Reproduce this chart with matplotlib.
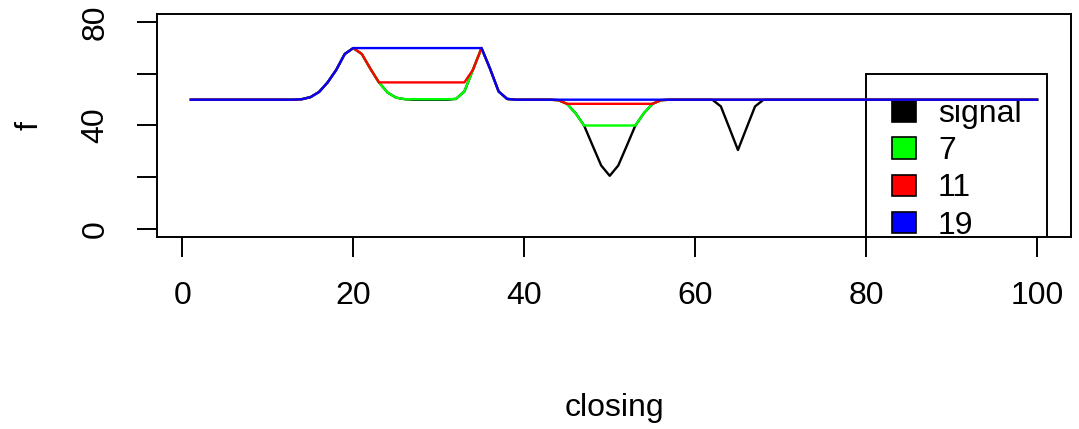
import matplotlib.pyplot as plt
from matplotlib.patches import Patch

# signal and its closings with window 7, 11, 19 (vertices)
x_signal = [1, 13, 14, 15, 16, 17, 18, 19, 20, 21, 22, 23, 24, 25, 26, 27,
            31, 32, 33, 34, 35, 36, 37, 38, 39,
            43, 44, 45, 46, 47, 48, 49, 50, 51, 52, 53, 54, 55, 56, 57,
            62, 63, 64, 65, 66, 67, 68, 100]
y_signal = [50, 50, 50.2, 51, 53, 56.7, 61.5, 67.7, 70, 67.7, 62, 56.7, 52.8, 50.8, 50.2, 50,
            50, 50.3, 53.2, 61.6, 70, 62, 53.2, 50.3, 50,
            50, 49.8, 48.4, 44.8, 40, 32.2, 24.5, 20.5, 24.5, 32.2, 40, 44.8, 48.4, 49.8, 50,
            50, 47.4, 39, 30.5, 39, 47.4, 50, 50]

x_c7 = [1, 13, 14, 15, 16, 17, 18, 19, 20, 21, 22, 23, 24, 25, 26, 27,
        31, 32, 33, 34, 35, 36, 37, 38, 39,
        43, 44, 45, 46, 47, 53, 54, 55, 56, 57, 100]
y_c7 = [50, 50, 50.2, 51, 53, 56.7, 61.5, 67.7, 70, 67.7, 62, 56.7, 52.8, 50.8, 50.2, 50.2,
        50.2, 50.3, 53.2, 61.6, 70, 62, 53.2, 50.3, 50,
        50, 49.8, 48.4, 44.8, 40, 40, 44.8, 48.4, 49.8, 50, 50]

x_c11 = [1, 13, 14, 15, 16, 17, 18, 19, 20, 21, 22, 23,
         33, 34, 35, 36, 37, 38, 39,
         43, 44, 45, 55, 56, 57, 100]
y_c11 = [50, 50, 50.2, 51, 53, 56.7, 61.5, 67.7, 70, 67.7, 62, 56.7,
         56.7, 61.6, 70, 62, 53.2, 50.3, 50,
         50, 49.8, 48.4, 48.4, 49.8, 50, 50]

x_c19 = [1, 13, 14, 15, 16, 17, 18, 19, 20, 35, 36, 37, 38, 39, 100]
y_c19 = [50, 50, 50.2, 51, 53, 56.7, 61.5, 67.7, 70, 70, 62, 53.2, 50.3, 50, 50]

labels = ['signal', '7', '11', '19']
colors = ['#000000', '#00FF00', '#FF0000', '#0000FF']

plt.rcParams['font.family'] = ['Liberation Sans', 'DejaVu Sans']
fs = 23

fig = plt.figure(figsize=(10.79, 4.29), dpi=100)
ax = fig.add_axes([157 / 1079, 1 - 237 / 429, (1071 - 157) / 1079, (237 - 14) / 429])

series = [(x_signal, y_signal), (x_c7, y_c7), (x_c11, y_c11), (x_c19, y_c19)]
for (xs, ys), c in zip(series, colors):
    ax.plot(xs, ys, color=c, lw=1.7, zorder=3)

ax.set_xlim(1 - 0.04 * 99, 100 + 0.04 * 99)
ax.set_ylim(-3.2, 83.2)
ax.set_xticks([0, 20, 40, 60, 80, 100])
ax.set_yticks([0, 20, 40, 60, 80])
ax.set_yticklabels(['0', '', '40', '', '80'], rotation=90, va='center')
ax.tick_params(axis='both', direction='out', length=14.4, width=1.4, labelsize=fs, colors='black')
ax.tick_params(axis='x', pad=17)
ax.tick_params(axis='y', pad=19)
for s in ax.spines.values():
    s.set_linewidth(1.4)

# legend at (80, 60) like R's legend(), clipped by the plot box
handles = [Patch(facecolor=c, edgecolor='black', lw=1.2) for c in colors]
leg = ax.legend(handles, labels, loc='upper left', bbox_to_anchor=(80, 60),
                bbox_transform=ax.transData, borderaxespad=0, fontsize=fs,
                fancybox=False, framealpha=1, edgecolor='black', borderpad=0.8,
                handlelength=0.75, handleheight=0.66, handletextpad=0.7, labelspacing=0.22)
leg.get_frame().set_linewidth(1.4)
leg.set_zorder(2)
for a in leg.findobj():
    a.set_clip_box(ax.bbox)
    a.set_clip_on(True)

fig.text(614 / 1079, 1 - 408 / 429, 'closing', fontsize=fs, ha='center', va='center')
fig.text(30 / 1079, 1 - 126 / 429, 'f', fontsize=fs, ha='center', va='center', rotation=90)

fig.savefig('out.png', dpi=100)
